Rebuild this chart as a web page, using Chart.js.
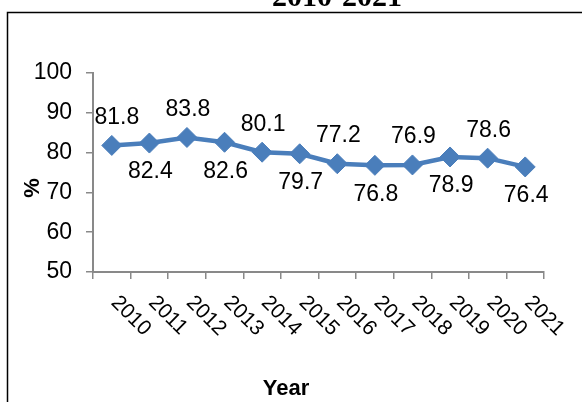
<!DOCTYPE html>
<html>
<head>
<meta charset="utf-8">
<script src="https://cdn.jsdelivr.net/npm/chart.js@4.4.1/dist/chart.umd.min.js"></script>
<style>
  html, body { margin: 0; padding: 0; background: #fff; }
  #wrap { width: 582px; height: 402px; }
</style>
</head>
<body>
<div id="wrap"><canvas id="chart" width="582" height="402"></canvas></div>
<script>
// values
const years = ['2010', '2011', '2012', '2013', '2014', '2015', '2016', '2017', '2018', '2019', '2020', '2021'];
const values = [81.8, 82.4, 83.8, 82.6, 80.1, 79.7, 77.2, 76.8, 76.9, 78.9, 78.6, 76.4];
const yTicks = [50, 60, 70, 80, 90, 100];
const titleText = '2010-2021';

const blue = '#4a7ebb';
const axisGray = '#898989';
const sans = '"Liberation Sans", Arial, sans-serif';

// border, title, axis titles, rotated year labels and point labels
const extras = {
  id: 'extras',
  beforeDraw(chart) {
    const ctx = chart.ctx;
    ctx.save();
    ctx.fillStyle = '#fff';
    ctx.fillRect(0, 0, chart.width, chart.height);
    ctx.strokeStyle = '#000';
    ctx.lineWidth = 1.5;
    ctx.beginPath();
    ctx.moveTo(7.5, chart.height);
    ctx.lineTo(7.5, 12.5);
    ctx.lineTo(chart.width, 12.5);
    ctx.stroke();
    ctx.restore();
  },
  afterDraw(chart) {
    const ctx = chart.ctx;
    const x = chart.scales.x;
    ctx.save();
    ctx.fillStyle = '#000';

    // title, mostly cut off at the top
    ctx.font = 'bold 30px "Liberation Serif", "Times New Roman", serif';
    ctx.textAlign = 'center';
    ctx.textBaseline = 'alphabetic';
    ctx.fillText(titleText, 337, 5.5);

    // x labels, slanted downwards
    ctx.font = '21px ' + sans;
    ctx.textAlign = 'left';
    ctx.textBaseline = 'top';
    years.forEach((y, i) => {
      const px = x.getPixelForValue(i);
      ctx.save();
      ctx.translate(px + 10, 292);
      ctx.rotate(Math.PI / 4);
      ctx.fillText(y, 0, 0);
      ctx.restore();
    });

    // axis titles
    ctx.font = 'bold 22px ' + sans;
    ctx.textAlign = 'center';
    ctx.textBaseline = 'middle';
    ctx.fillText('Year', 286, 389);
    ctx.save();
    ctx.translate(33, 188);
    ctx.rotate(-Math.PI / 2);
    ctx.fillText('%', 0, 0);
    ctx.restore();
    ctx.restore();
  },
  afterDatasetsDraw(chart) {
    const ctx = chart.ctx;
    const meta = chart.getDatasetMeta(0);
    ctx.save();
    ctx.fillStyle = '#000';
    ctx.font = '23px ' + sans;
    ctx.textAlign = 'center';
    ctx.textBaseline = 'middle';
    meta.data.forEach((pt, i) => {
      const dy = i % 2 ? 29 : -28;
      ctx.fillText(values[i].toFixed(1), pt.x + (i === 0 ? 5 : 1), pt.y + dy);
    });
    ctx.restore();
  }
};

new Chart(document.getElementById('chart'), {
  type: 'line',
  data: {
    labels: years,
    datasets: [{
      data: values,
      borderColor: blue,
      backgroundColor: blue,
      borderWidth: 4.5,
      pointStyle: 'rectRot',
      pointRadius: 10,
      pointHoverRadius: 10,
      pointBorderWidth: 1,
      tension: 0,
      clip: false
    }]
  },
  options: {
    responsive: false,
    animation: false,
    events: [],
    layout: { padding: { top: 73, right: 38, bottom: 0, left: 0 } },
    plugins: { legend: { display: false }, tooltip: { enabled: false } },
    scales: {
      x: {
        type: 'category',
        offset: true,
        grid: { offset: true, drawOnChartArea: false, color: axisGray, lineWidth: 1.5, tickLength: 7 },
        border: { color: axisGray, width: 2 },
        ticks: { display: false },
        afterFit(scale) { scale.height = 130; }
      },
      y: {
        min: 50,
        max: 100,
        afterBuildTicks(scale) { scale.ticks = yTicks.map(v => ({ value: v })); },
        grid: { drawOnChartArea: false, color: axisGray, lineWidth: 1.5, tickLength: 7 },
        border: { color: axisGray, width: 2 },
        ticks: { color: '#000', padding: 14, font: { family: sans, size: 23 } },
        afterFit(scale) { scale.width = 93; }
      }
    }
  },
  plugins: [extras]
});
</script>
</body>
</html>
